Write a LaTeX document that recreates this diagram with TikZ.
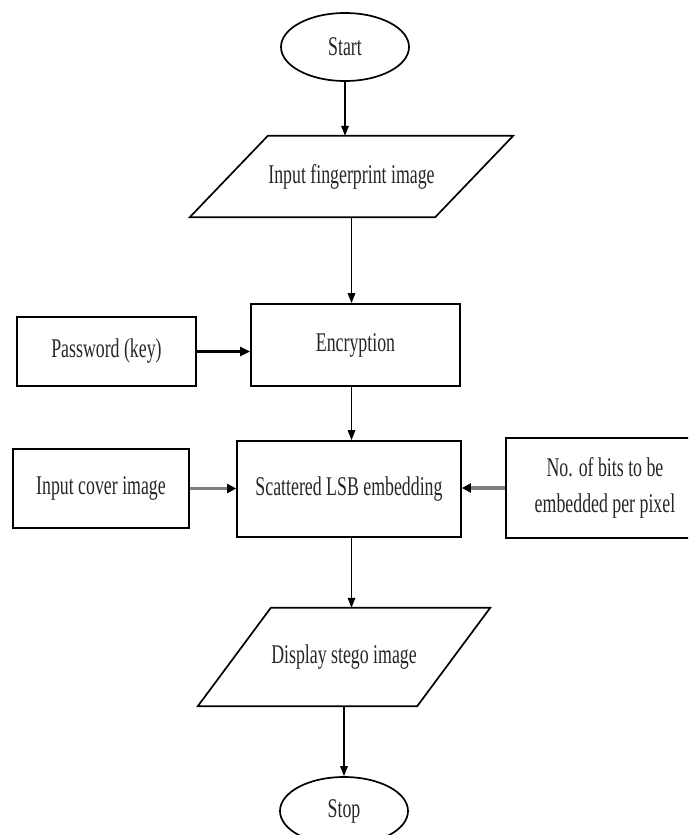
\documentclass[tikz,border=0pt]{standalone}
\usepackage{fontspec}
\setmainfont{Liberation Serif}[FakeStretch=0.66]
\usetikzlibrary{arrows.meta,shapes.geometric}
\begin{document}
\begin{tikzpicture}[x=1pt,y=-1pt,
  lbl/.style={font=\fontsize{27}{36}\selectfont, text=black!85, align=center, inner sep=0pt},
  box/.style={lbl, draw, line width=1.7pt},
  term/.style={lbl, draw, ellipse, line width=1.7pt},
  io/.style={lbl, rectangle},
  para/.style={line width=1.7pt, line join=miter},
  arr/.style={-{Triangle[length=10pt,width=7.5pt]}, line width=1.4pt},
  thickarr/.style={-{Triangle[length=10pt,width=9pt]}, line width=3.2pt},
  grayarr/.style={-{Triangle[length=9pt,width=9pt,color=black]}, line width=3.2pt, draw=black!50}
]
\useasboundingbox (0,0) rectangle (688,835);
\clip (0,0) rectangle (688,835);

% nodes
\node[term, minimum width=128pt, minimum height=68pt] (start) at (345,47) {Start};
\node[io, minimum width=245pt, minimum height=81pt] (input) at (351.5,176.5) {Input fingerprint image};
\node[box, minimum width=209pt, minimum height=82pt] (enc) at (355.5,345) {Encryption};
\node[box, minimum width=179pt, minimum height=69pt] (pw) at (106.5,351.5) {Password (key)};
\node[box, minimum width=224pt, minimum height=96pt] (lsb) at (349,489) {Scattered LSB embedding};
\node[box, minimum width=176pt, minimum height=79pt] (cover) at (101,488.5) {Input cover image};
\node[box, minimum width=198pt, minimum height=100pt] (bits) at (605,488) {No. of bits to be\\embedded per pixel};
\node[io, minimum width=219pt, minimum height=98pt] (disp) at (344,657) {Display stego image};
\node[term, minimum width=128pt, minimum height=68pt] (stop) at (344,811) {Stop};

% parallelograms
\draw[para] ([xshift=39pt]input.north west) -- ([xshift=39pt]input.north east)
  -- ([xshift=-39pt]input.south east) -- ([xshift=-39pt]input.south west) -- cycle;
\draw[para] ([xshift=36.5pt]disp.north west) -- ([xshift=36.5pt]disp.north east)
  -- ([xshift=-36.5pt]disp.south east) -- ([xshift=-36.5pt]disp.south west) -- cycle;

% connectors
\draw[arr] (start.south) -- (start.south |- input.north);
\draw[arr] (input.south) -- (input.south |- enc.north);
\draw[thickarr] (pw.east) -- (pw.east -| enc.west);
\draw[arr] (input.south |- enc.south) -- (input.south |- lsb.north);
\draw[grayarr] (cover.east) -- (cover.east -| lsb.west);
\draw[grayarr] (bits.west) -- (bits.west -| lsb.east);
\draw[arr] (input.south |- lsb.south) -- (input.south |- disp.north);
\draw[arr] (disp.south) -- (stop.north);
\end{tikzpicture}
\end{document}
